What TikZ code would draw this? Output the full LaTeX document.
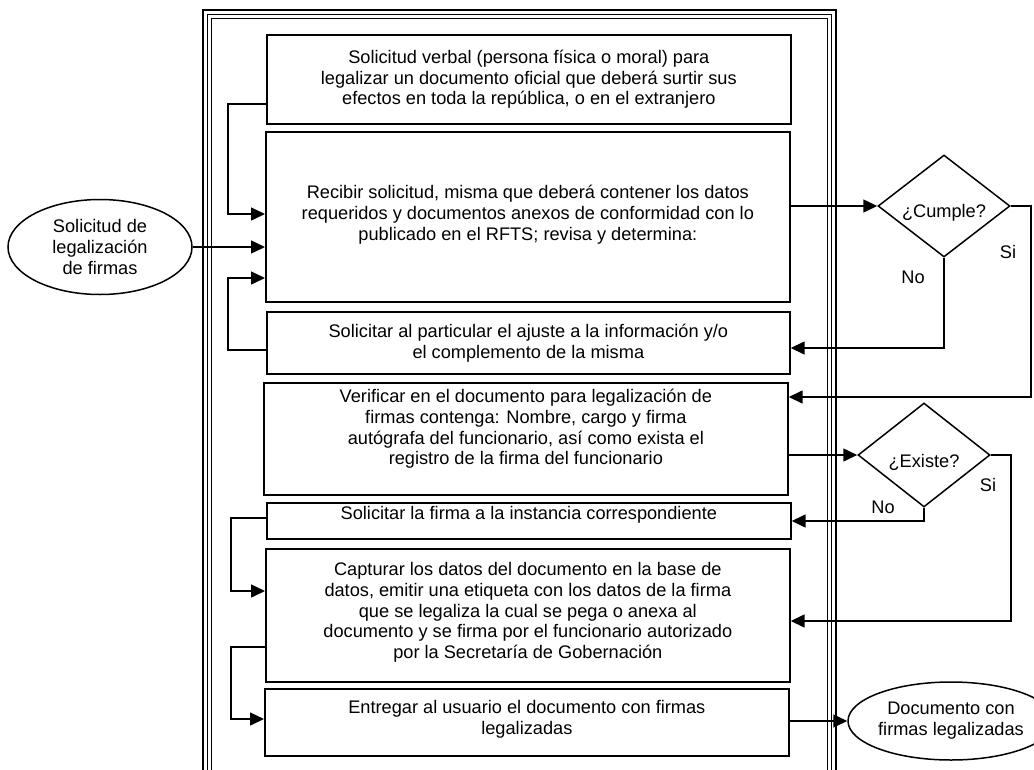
\documentclass[tikz,border=0pt]{standalone}
\usepackage{fontspec}
\setmainfont{Liberation Sans}
\usetikzlibrary{arrows.meta,shapes.geometric,calc}

\begin{document}
\begin{tikzpicture}[x=1pt,y=-1pt,
  txt/.style={align=center, font=\fontsize{18.2}{20.8}\selectfont, inner sep=0pt},
  box/.style={draw, rectangle, line width=1.7pt, anchor=north west, inner sep=0pt},
  decision/.style={draw, diamond, line width=1.5pt, inner sep=0pt, minimum width=132pt},
  terminal/.style={draw, ellipse, line width=1.5pt, inner sep=0pt},
  flow/.style={line width=1.5pt, -{Triangle[length=14pt,width=13pt]}}
]
\useasboundingbox (0,0) rectangle (1034,769);
\clip (0,0) rectangle (1034,769);

% page frame: thick outer rule, two thin inner rules
\draw[line width=2pt] (203,790) -- (203,10) -- (836,10) -- (836,790);
\draw[line width=1pt] (207.5,790) -- (207.5,14.5) -- (831.5,14.5) -- (831.5,790);
\draw[line width=1pt] (211.5,790) -- (211.5,18.5) -- (827.5,18.5) -- (827.5,790);

% process steps
\node[box, minimum width=524pt, minimum height=89pt,
  label={[txt]center:Solicitud verbal (persona física o moral) para\\legalizar un documento oficial que deberá surtir sus\\efectos en toda la república, o en el extranjero}]
  (b1) at (266,34) {};
\node[box, minimum width=524pt, minimum height=170pt,
  label={[txt, yshift=2pt]center:Recibir solicitud, misma que deberá contener los datos\\requeridos y documentos anexos de conformidad con lo\\publicado en el RFTS; revisa y determina:}]
  (b2) at (265,131) {};
\node[box, minimum width=523pt, minimum height=62pt,
  label={[txt]center:Solicitar al particular el ajuste a la información y/o\\el complemento de la misma}]
  (b3) at (266,311) {};
\node[box, minimum width=524pt, minimum height=112pt,
  label={[txt, yshift=10pt]center:Verificar en el documento para legalización de\\firmas contenga: Nombre, cargo y firma\\autógrafa del funcionario, así como exista el\\registro de la firma del funcionario}]
  (b4) at (263,382) {};
\node[box, minimum width=524pt, minimum height=36pt,
  label={[txt, yshift=6pt]center:Solicitar la firma a la instancia correspondiente}]
  (b5) at (266,502) {};
\node[box, minimum width=524pt, minimum height=133pt,
  label={[txt, yshift=3pt]center:Capturar los datos del documento en la base de\\datos, emitir una etiqueta con los datos de la firma\\que se legaliza la cual se pega o anexa al\\documento y se firma por el funcionario autorizado\\por la Secretaría de Gobernación}]
  (b6) at (265,548) {};
\node[box, minimum width=524pt, minimum height=67pt,
  label={[txt, yshift=3pt]center:Entregar al usuario el documento con firmas\\legalizadas}]
  (b7) at (264,688) {};

% start and end
\node[terminal, minimum width=184pt, minimum height=95pt, txt] (e1) at (100,247)
  {Solicitud de\\legalización\\de firmas};
\node[terminal, minimum width=168pt, minimum height=78pt, txt] (e2) at (951,721)
  {Documento con\\firmas legalizadas};

% decisions
\node[decision, minimum height=102pt, label={[txt, yshift=-7pt]center:¿Cumple?}] (d1) at (944,206) {};
\node[decision, minimum height=104pt, label={[txt, yshift=-7pt]center:¿Existe?}] (d2) at (924,455) {};

% branch labels
\node[txt] (no1) at (913,277) {No};
\node[txt] (si1) at (1008,252) {Si};
\node[txt] (no2) at (883,507) {No};
\node[txt] (si2) at (988,485) {Si};

% bend points of the connectors
\coordinate (k1) at (228,104);
\coordinate (k2) at (228,214);
\coordinate (k3) at (228,350);
\coordinate (k4) at (228,278);
\coordinate (k5) at (231,518);
\coordinate (k6) at (231,591);
\coordinate (k7) at (231,647);
\coordinate (k8) at (231,719);
\coordinate (r1) at (900,348);
\coordinate (r2) at (1031,397);
\coordinate (r3) at (900,521);
\coordinate (r4) at (1011,621);

% left-hand connectors
\draw[flow] (b1.west |- k1) -- (k1) -- (k2) -- (b2.west |- k2);
\draw[flow] (b3.west |- k3) -- (k3) -- (k4) -- (b2.west |- k4);
\draw[flow] (e1.east) -- (e1.east -| b2.west);
\draw[flow] (b5.west |- k5) -- (k5) -- (k6) -- (b6.west |- k6);
\draw[flow] (b6.west |- k7) -- (k7) -- (k8) -- (b7.west |- k8);

% right-hand connectors
\draw[flow] (b2.east |- d1.west) -- (d1.west);
\draw[flow] (d1.south) -- (d1.south |- r1) -- (b3.east |- r1);
\draw[flow] (d1.east) -- (d1.east -| r2) -- (r2) -- (b4.east |- r2);
\draw[flow] (b4.east |- d2.west) -- (d2.west);
\draw[flow] (d2.south) -- (d2.south |- r3) -- (b5.east |- r3);
\draw[flow] (d2.east) -- (d2.east -| r4) -- (r4) -- (b6.east |- r4);
\draw[flow] (b7.east |- e2.west) -- (e2.west);
\end{tikzpicture}
\end{document}
